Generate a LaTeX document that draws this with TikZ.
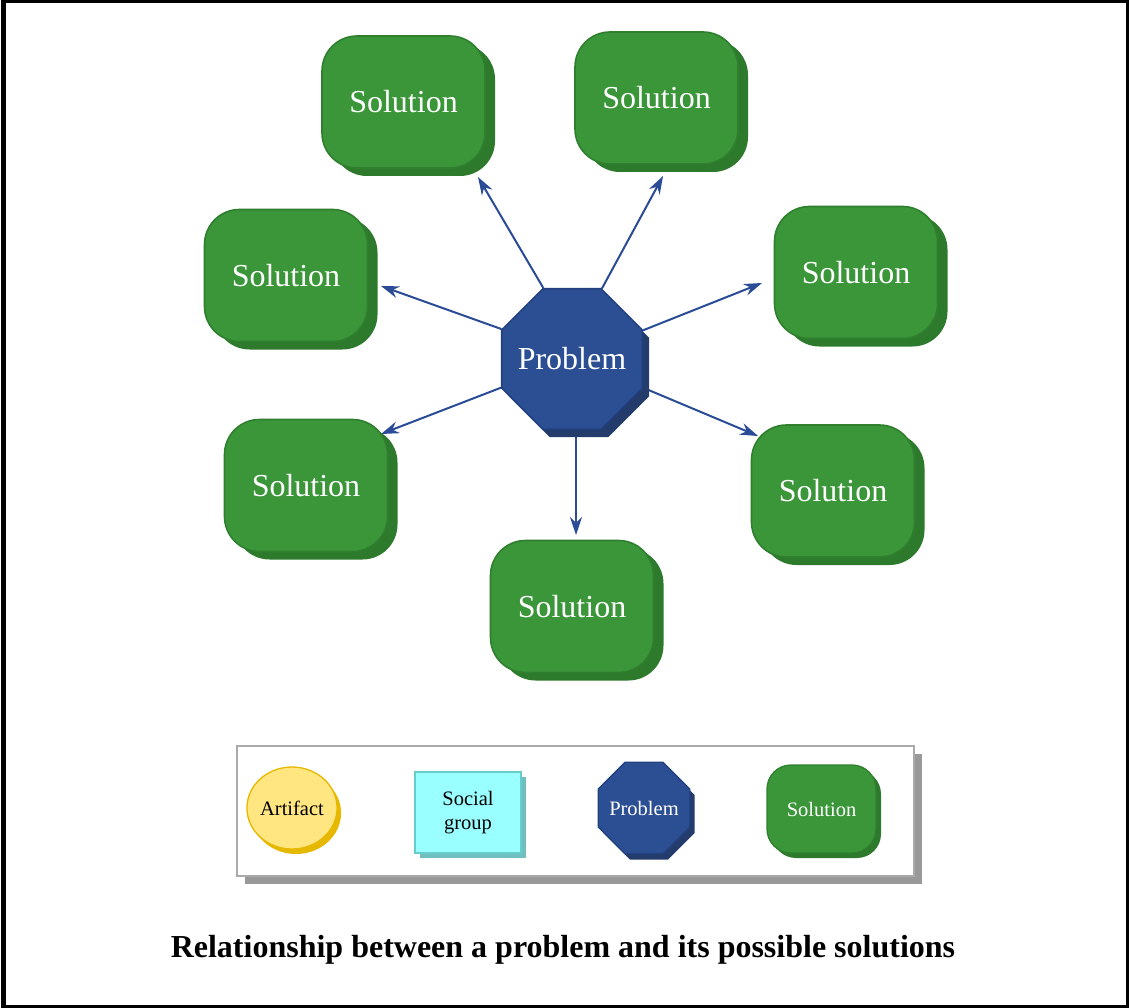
\documentclass[tikz,border=0pt]{standalone}
\usepackage{fontspec}
\setmainfont{Liberation Serif}
\usetikzlibrary{shapes.geometric,shadows,arrows.meta,backgrounds}
\definecolor{gface}{HTML}{3A9639}
\definecolor{gline}{HTML}{2F7F2F}
\definecolor{gshade}{HTML}{2D7A2D}
\definecolor{bface}{HTML}{2C4F94}
\definecolor{bline}{HTML}{22417F}
\definecolor{bshade}{HTML}{233C6C}
\definecolor{arrc}{HTML}{2A4C96}
\definecolor{yface}{HTML}{FFE680}
\definecolor{yline}{HTML}{E8B800}
\definecolor{yshade}{HTML}{E6B800}
\definecolor{cface}{HTML}{99FFFF}
\definecolor{cline}{HTML}{66CCCC}
\definecolor{cshade}{HTML}{6FBFBF}
\definecolor{legline}{HTML}{AAAAAA}
\definecolor{legshade}{HTML}{999999}
\begin{document}
\begin{tikzpicture}[x=1pt,y=-1pt,
  bigfont/.style={font=\fontsize{32}{38}\selectfont},
  smallfont/.style={font=\fontsize{20.5}{24}\selectfont},
  sol/.style={rectangle, rounded corners=35pt, minimum width=163pt, minimum height=132pt,
    inner sep=0pt, fill=gface, draw=gline, line width=1.6pt, text=white, bigfont,
    general shadow={fill=gshade, shadow xshift=10pt, shadow yshift=-8pt}},
  prob/.style={regular polygon, regular polygon sides=8, minimum size=152pt, inner sep=0pt,
    fill=bface, draw=bline, line width=1.6pt, text=white, bigfont,
    general shadow={fill=bshade, shadow xshift=7pt, shadow yshift=-8pt}},
  arr/.style={draw=arrc, line width=2pt, -{Stealth[length=18pt,width=12pt]}},
  legsol/.style={rectangle, rounded corners=24pt, minimum width=109pt, minimum height=88pt,
    inner sep=0pt, fill=gface, draw=gline, line width=1.3pt, text=white, smallfont,
    general shadow={fill=gshade, shadow xshift=5pt, shadow yshift=-5pt}},
  legprob/.style={regular polygon, regular polygon sides=8, minimum size=99pt, inner sep=0pt,
    fill=bface, draw=bline, line width=1.3pt, text=white, smallfont,
    general shadow={fill=bshade, shadow xshift=5pt, shadow yshift=-6pt}},
  legart/.style={ellipse, minimum width=88pt, minimum height=82pt, inner sep=0pt,
    fill=yface, draw=yline, line width=1.3pt, text=black, smallfont,
    general shadow={fill=yshade, shadow xshift=4pt, shadow yshift=-5pt}},
  legsoc/.style={rectangle, minimum width=106pt, minimum height=81pt, inner sep=0pt,
    fill=cface, draw=cline, line width=1.3pt, text=black, smallfont, align=center,
    general shadow={fill=cshade, shadow xshift=5pt, shadow yshift=-5pt}},
  legbox/.style={draw=legline, line width=1.2pt, fill=white},
  legshadow/.style={fill=legshade},
  frame/.style={draw=black, line width=2.5pt},
  titlestyle/.style={font=\fontsize{32}{38}\selectfont\bfseries, text=black}
]
\useasboundingbox (0,0) rectangle (1129,1008);

% main nodes
\node[prob] (p) at (572,359) {\makebox[0pt]{Problem}};
\node[sol] (s1) at (403.5,102) {Solution};
\node[sol] (s2) at (656.5,98) {Solution};
\node[sol] (s3) at (286,275.5) {Solution};
\node[sol] (s4) at (856,272.5) {Solution};
\node[sol] (s5) at (306,485.5) {Solution};
\node[sol] (s6) at (833,491) {Solution};
\node[sol] (s7) at (572,606.5) {Solution};

% arrow tips
\coordinate (t1) at (478,177);
\coordinate (t2) at (663,176);
\coordinate (t3) at (381,286);
\coordinate (t4) at (762,283);
\coordinate (t5) at (381,434);
\coordinate (t6) at (758,436);
\coordinate (t7) at (576,535);

\begin{scope}[on background layer]
  \fill[white] (0,0) rectangle (1129,1008);
  \draw[arr] (p.112.5) -- (t1);
  \draw[arr] (p.67.5) -- (t2);
  \draw[arr] (p.157.5) -- (t3);
  \draw[arr] (p.22.5) -- (t4);
  \draw[arr] (p.202.5) -- (t5);
  \draw[arr] (p.-22.5) -- (t6);
  \draw[arr] (p.south -| t7) -- (t7);
\end{scope}

% legend
\fill[legshadow] (245,754) rectangle (922,884);
\draw[legbox] (237,746) rectangle (914,876);
\node[legart] (la) at (292,808) {Artifact};
\node[legsoc] (ls) at (468,812.5) {Social\\group};
\node[legprob] (lp) at (644,808) {\makebox[0pt]{Problem}};
\node[legsol] (lsol) at (821.5,809) {Solution};

% title
\node[titlestyle, anchor=base] (title) at (563,957) {Relationship between a problem and its possible solutions};

% frame
\draw[frame] (2,1.5) rectangle (1127.5,1006.5);
\draw[black, line width=4pt] (3.5,1.5) -- (3.5,1006.5);
\end{tikzpicture}
\end{document}
